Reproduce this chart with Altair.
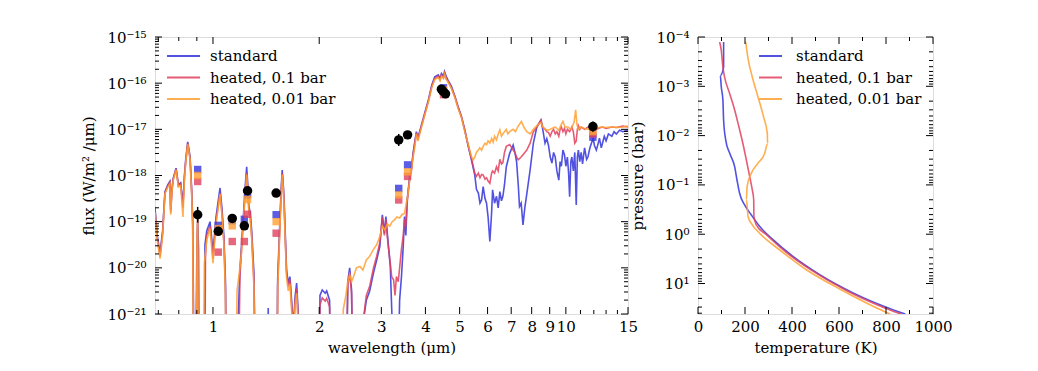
import json
import altair as alt
import pandas as pd

FONT = "DejaVu Serif"
SERIES = ["standard", "heated, 0.1 bar", "heated, 0.01 bar"]
COLORS = ["#3434dc", "#e0405e", "#ffa033"]

# ---------------- spectrum (wavelength in micron, log10 flux in W/m^2/micron) ----------------
std_wl = [0.685, 0.695, 0.708, 0.72, 0.731, 0.745, 0.755, 0.759, 0.765, 0.772, 0.786, 0.798, 0.81, 0.822, 0.83,
          0.837, 0.848, 0.861, 0.87, 0.876, 0.882, 0.892, 0.9, 0.905, 0.91, 0.915, 0.945, 0.949, 0.96, 0.981,
          0.99, 1.0, 1.02, 1.047, 1.06, 1.074, 1.085, 1.093, 1.17, 1.18, 1.192, 1.205, 1.218, 1.235, 1.246,
          1.255, 1.264, 1.275, 1.287, 1.306, 1.324, 1.43, 1.434, 1.44, 1.515, 1.525, 1.548, 1.56, 1.571, 1.582,
          1.592, 1.605, 1.616, 1.634, 1.652, 1.67, 1.69, 1.71, 1.726, 1.745, 1.763, 2.0, 2.01, 2.04, 2.08, 2.1,
          2.14, 2.16, 2.38, 2.41, 2.44, 2.47, 2.5, 2.6, 2.65, 2.72, 2.78, 2.85, 2.91, 2.97, 3.02, 3.06, 3.09,
          3.13, 3.18, 3.23, 3.27, 3.33, 3.38, 3.42, 3.46, 3.49, 3.52, 3.55, 3.61, 3.65, 3.69, 3.77, 3.81, 3.9,
          3.98, 4.08, 4.17, 4.25, 4.35, 4.4, 4.44, 4.5, 4.53, 4.58, 4.63, 4.74, 4.85, 4.95, 5.06, 5.17, 5.28,
          5.4, 5.52, 5.58, 5.65, 5.71, 5.77, 5.83, 5.9, 5.96, 6.02, 6.09, 6.16, 6.2, 6.28, 6.36, 6.43, 6.5,
          6.57, 6.63, 6.7, 6.78, 6.93, 7.09, 7.17, 7.25, 7.33, 7.39, 7.47, 7.56, 7.65, 7.75, 7.92, 8.09, 8.28,
          8.5, 8.6, 8.73, 8.83, 8.93, 9.03, 9.13, 9.23, 9.33, 9.43, 9.55, 9.63, 9.71, 9.81, 9.91, 10.0, 10.1,
          10.18, 10.25, 10.33, 10.4, 10.5, 10.6, 10.7, 10.78, 10.85, 10.95, 11.05, 11.15, 11.3, 11.45, 11.55,
          11.7, 11.95, 12.05, 12.2, 12.35, 12.45, 12.6, 12.7, 12.85, 13.0, 13.2, 13.5, 13.7, 13.9, 14.2, 14.5, 15.0]
std_lf = [-18.70, -19.30, -19.68, -19.2, -18.35, -18.2, -18.13, -18.74, -18.3, -18.05, -17.84, -18.2, -18.16, -18.64, -18.0,
          -17.66, -17.27, -17.59, -18.3, -18.96, -21.5, -23, -19.7, -18.95, -19.6, -23, -23, -19.5, -19.2, -19.0,
          -19.3, -19.68, -18.9, -18.27, -18.7, -19.32, -20.3, -23, -23, -21.0, -20.04, -19.5, -18.96, -18.2, -17.81,
          -18.2, -18.67, -18.8, -19.18, -20.1, -23, -23, -20.87, -23, -23, -20.26, -18.96, -18.3, -17.88, -18.2,
          -18.6, -19.4, -20.04, -20.33, -20.19, -20.7, -21.3, -20.6, -20.33, -21.0, -23, -23, -20.6, -20.48, -20.55, -20.5,
          -20.7, -23, -23, -20.3, -20.0, -20.48, -23, -23, -21.3, -20.7, -20.5, -20.11, -19.83, -19.54, -18.85, -19.25, -18.89,
          -19.39, -19.97, -21.5, -23, -23, -20.7, -20.2, -19.54, -18.89, -19.3, -18.53, -18.02, -17.85, -17.52, -17.05, -17.18, -16.9,
          -16.65, -16.36, -16.04, -15.86, -15.82, -15.9, -15.79, -15.85, -15.75, -15.85, -15.93, -16.07, -16.29, -16.51, -16.72, -17.01, -17.34,
          -17.66, -17.99, -18.3, -18.38, -18.6, -18.53, -18.24, -18.5, -18.6, -18.9, -19.43, -18.8, -18.31, -18.6, -18.45, -18.7, -18.35,
          -18.55, -18.45, -18.2, -17.81, -17.52, -17.34, -17.5, -17.7, -18.2, -18.67, -18.6, -19.07, -18.7, -18.4, -17.88, -17.3, -16.94,
          -16.8, -17.0, -17.3, -17.2, -17.35, -17.6, -17.73, -17.5, -17.6, -17.9, -18.1, -17.7, -17.8, -17.45, -17.55, -17.8, -17.6,
          -17.95, -18.46, -17.7, -17.6, -17.9, -17.5, -18.64, -17.6, -17.45, -17.7, -17.5, -17.75, -17.4, -17.65, -17.6,
          -17.4, -17.19, -17.35, -17.45, -17.3, -17.19, -17.4, -17.3, -17.15, -17.25, -17.1, -17.15, -17.05, -17.1, -17.02, -17.05, -17.01]

h01_wl = [0.685, 0.695, 0.708, 0.72, 0.731, 0.745, 0.755, 0.759, 0.765, 0.772, 0.786, 0.798, 0.81, 0.822, 0.83,
          0.837, 0.848, 0.861, 0.87, 0.876, 0.882, 0.897, 0.901, 0.905, 0.91, 0.948, 0.952, 0.96, 0.981, 0.99,
          1.0, 1.02, 1.047, 1.06, 1.074, 1.085, 1.09, 1.18, 1.192, 1.205, 1.218, 1.235, 1.246, 1.255, 1.264,
          1.275, 1.287, 1.306, 1.32, 1.52, 1.525, 1.548, 1.56, 1.571, 1.582, 1.592, 1.605, 1.616, 1.634, 1.652,
          1.67, 1.69, 1.71, 1.726, 1.745, 1.76, 2.0, 2.01, 2.04, 2.08, 2.1, 2.14, 2.16, 2.38, 2.41, 2.44, 2.47,
          2.5, 2.62, 2.68, 2.72, 2.78, 2.85, 2.91, 2.97, 3.02, 3.06, 3.09, 3.13, 3.18, 3.21, 3.25, 3.28, 3.31,
          3.35, 3.38, 3.42, 3.46, 3.49, 3.52, 3.55, 3.61, 3.65, 3.69, 3.77, 3.81, 3.9, 3.98, 4.08, 4.17, 4.25,
          4.35, 4.4, 4.44, 4.5, 4.53, 4.58, 4.63, 4.74, 4.85, 4.95, 5.06, 5.17, 5.28, 5.4, 5.52, 5.58, 5.65,
          5.71, 5.77, 5.83, 5.9, 5.96, 6.02, 6.09, 6.16, 6.2, 6.28, 6.36, 6.43, 6.5, 6.57, 6.63, 6.7, 6.78, 6.93,
          7.09, 7.17, 7.25, 7.33, 7.47, 7.56, 7.65, 7.75, 7.92, 8.09, 8.28, 8.5, 8.6, 8.73, 8.83, 8.93, 9.03,
          9.13, 9.23, 9.33, 9.43, 9.55, 9.63, 9.71, 9.81, 9.91, 10.0, 10.1, 10.25, 10.4, 10.5, 10.6, 10.7, 10.78,
          10.85, 10.95, 11.05, 11.3, 11.55, 11.95, 12.2, 12.45, 12.7, 13.0, 13.5, 13.9, 14.5, 15.0]
h01_lf = [-18.75, -19.35, -19.75, -19.25, -18.38, -18.22, -18.15, -18.8, -18.32, -18.07, -17.86, -18.22, -18.18, -18.7, -18.05,
          -17.7, -17.3, -17.62, -18.35, -19.05, -23, -23, -19.5, -19.0, -23, -23, -19.8, -19.3, -19.1, -19.4,
          -19.8, -19.0, -18.38, -18.8, -19.45, -20.5, -23, -23, -20.2, -19.6, -19.0, -18.3, -17.95, -18.3, -18.75,
          -18.9, -19.3, -20.3, -23, -23, -20.4, -19.05, -18.4, -17.95, -18.25, -18.7, -19.5, -20.1, -20.4, -20.25,
          -20.8, -21.4, -20.7, -20.45, -21.2, -23, -23, -20.8, -20.65, -20.72, -20.66, -20.85, -23, -23, -20.4, -20.1, -20.55,
          -23, -23, -21.0, -20.6, -20.4, -20.0, -19.75, -19.45, -18.9, -19.3, -18.95, -19.45, -19.9, -20.2, -20.26, -20.6, -20.19,
          -20.3, -20.0, -19.6, -19.3, -18.95, -19.1, -18.6, -18.05, -17.9, -17.55, -17.08, -17.2, -16.92, -16.68, -16.38, -16.06, -15.9,
          -15.85, -15.92, -15.82, -15.88, -15.78, -15.9, -15.95, -16.1, -16.3, -16.52, -16.73, -17.02, -17.33, -17.63, -17.95, -18.02, -17.95,
          -18.05, -17.98, -17.99, -18.08, -18.05, -18.12, -18.17, -17.95, -17.9, -17.95, -17.81, -17.9, -17.65, -17.75, -17.72, -17.5, -17.37, -17.33,
          -17.45, -17.5, -17.6, -17.66, -17.6, -17.55, -17.5, -17.45, -17.3, -17.05, -16.95, -16.8, -16.95, -17.0, -17.05, -17.07, -17.15,
          -17.05, -17.0, -17.1, -17.05, -17.15, -17.0, -16.95, -17.05, -16.98, -17.1, -17.0, -17.05, -16.95, -17.05, -17.3, -17.25, -17.0,
          -16.92, -17.0, -16.95, -17.0, -16.95, -16.98, -17.0, -16.97, -16.95, -16.98, -16.95, -16.96, -16.93, -16.95]

h001_wl = [0.685, 0.695, 0.708, 0.72, 0.731, 0.745, 0.755, 0.759, 0.765, 0.772, 0.786, 0.798, 0.81, 0.822, 0.83,
           0.837, 0.848, 0.861, 0.87, 0.876, 0.882, 0.897, 0.901, 0.905, 0.91, 0.94, 0.945, 0.96, 0.981, 0.99,
           1.0, 1.02, 1.047, 1.06, 1.074, 1.085, 1.09, 1.16, 1.17, 1.192, 1.205, 1.218, 1.235, 1.246, 1.255,
           1.264, 1.275, 1.287, 1.306, 1.32, 1.52, 1.525, 1.548, 1.56, 1.571, 1.582, 1.592, 1.605, 1.616, 1.634,
           1.652, 1.67, 1.69, 1.71, 1.726, 1.745, 1.76, 2.3, 2.34, 2.38, 2.41, 2.44, 2.47, 2.5, 2.55, 2.61, 2.66,
           2.72, 2.78, 2.85, 2.91, 2.97, 3.02, 3.07, 3.12, 3.17, 3.22, 3.27, 3.32, 3.38, 3.43, 3.49, 3.53, 3.57,
           3.61, 3.65, 3.69, 3.73, 3.77, 3.81, 3.9, 3.98, 4.08, 4.17, 4.25, 4.35, 4.4, 4.44, 4.5, 4.53, 4.58,
           4.63, 4.74, 4.85, 4.95, 5.06, 5.17, 5.28, 5.4, 5.46, 5.52, 5.58, 5.65, 5.7, 5.77, 5.83, 5.9, 5.96,
           6.02, 6.09, 6.16, 6.22, 6.28, 6.36, 6.43, 6.5, 6.57, 6.63, 6.7, 6.78, 6.85, 6.93, 7.09, 7.2, 7.3, 7.48,
           7.6, 7.75, 7.92, 8.09, 8.28, 8.5, 8.6, 8.73, 8.93, 9.13, 9.33, 9.55, 9.7, 9.81, 9.95, 10.13, 10.35,
           10.55, 10.66, 10.75, 10.85, 11.05, 11.3, 11.55, 11.95, 12.2, 12.6, 13.0, 13.5, 13.9, 14.5, 15.0]
h001_lf = [-18.8, -19.4, -19.8, -19.3, -18.4, -18.25, -18.18, -18.85, -18.35, -18.1, -17.88, -18.25, -18.22, -18.9, -18.1,
           -17.72, -17.32, -17.65, -18.4, -19.1, -23, -23, -19.4, -18.9, -23, -23, -19.9, -19.4, -19.15, -19.5,
           -19.9, -19.05, -18.4, -18.85, -19.5, -20.6, -23, -23, -20.5, -20.0, -19.65, -19.05, -18.35, -17.98, -18.35,
           -18.8, -18.95, -19.35, -20.4, -23, -23, -20.5, -19.1, -18.45, -17.98, -18.3, -18.75, -19.55, -20.2, -20.5,
           -20.35, -20.9, -21.5, -20.8, -20.55, -21.3, -23, -23, -20.9, -20.6, -20.3, -20.15, -20.3, -20.2, -20.0, -19.97, -20.05,
           -19.83, -19.75, -19.6, -19.5, -19.32, -19.1, -19.18, -19.05, -19.1, -19.0, -18.96, -18.9, -18.92, -18.85, -18.82, -18.6, -18.4,
           -18.1, -17.88, -17.6, -17.4, -17.1, -17.25, -16.95, -16.7, -16.4, -16.1, -15.92, -15.88, -15.95, -15.85, -15.9, -15.8, -15.92,
           -15.97, -16.12, -16.32, -16.55, -16.75, -17.05, -17.3, -17.59, -17.66, -17.6, -17.5, -17.45, -17.4, -17.45, -17.37, -17.3, -17.33,
           -17.25, -17.3, -17.2, -17.28, -17.15, -17.23, -17.1, -17.01, -17.15, -17.1, -17.05, -17.0, -17.1, -17.05, -17.0, -17.05, -16.95, -16.83,
           -16.95, -17.05, -17.1, -17.0, -16.92, -16.85, -16.95, -17.0, -17.02, -16.98, -16.95, -17.02, -16.9, -16.83, -16.95, -16.95, -17.0,
           -16.85, -16.58, -16.9, -17.0, -16.95, -16.98, -17.0, -16.98, -16.97, -16.95, -16.96, -16.95, -16.96, -16.95, -16.93]

# ---------------- observed photometry ----------------
obs_wl = [0.905, 1.035, 1.134, 1.227, 1.253, 1.51, 3.36, 3.56, 4.44, 4.49, 4.56, 11.93]
obs_lf = [-18.85, -19.21, -18.93, -19.09, -18.33, -18.38, -17.23, -17.12, -16.13, -16.18, -16.23, -16.94]
obs_err = [0.17, 0.04, 0.03, 0.08, 0.04, 0.03, 0.13, 0.04, 0.03, 0.03, 0.03, 0.11]

# ---------------- model band fluxes ----------------
band_wl = [0.905, 1.035, 1.134, 1.227, 1.253, 1.51, 3.36, 3.56, 4.50, 11.93]
band_std_lf = [-17.87, -19.08, -18.98, -18.95, -18.42, -18.85, -18.28, -17.77, -16.10, -17.17]
band_h01_lf = [-18.13, -19.66, -19.43, -19.43, -18.84, -19.25, -18.53, -18.02, -16.25, -17.10]
band_h001_lf = [-18.00, -19.15, -19.09, -19.09, -18.52, -19.00, -18.42, -17.92, -16.15, -17.05]

# ---------------- temperature-pressure profiles (K, log10 bar) ----------------
tp_std_T = [109, 109, 95, 99, 106, 109, 118, 135, 156, 166, 177, 199, 227, 262, 319, 404, 518, 660, 790, 882]
tp_std_lp = [-3.9, -3.39, -3.22, -2.99, -2.72, -2.31, -1.91, -1.64, -1.37, -1.1, -0.83, -0.59, -0.39, -0.16, 0.11, 0.45, 0.82, 1.19, 1.46, 1.62]
tp_h01_T = [92, 99, 106, 113, 135, 156, 174, 191, 206, 220, 231, 237, 238, 248, 291, 376, 489, 631, 777, 864]
tp_h01_lp = [-3.9, -3.73, -3.39, -3.19, -2.85, -2.52, -2.18, -1.84, -1.5, -1.17, -0.9, -0.7, -0.36, -0.19, 0.01, 0.37, 0.75, 1.14, 1.46, 1.62]
tp_h001_T = [203, 213, 231, 255, 279, 295, 296, 284, 255, 227, 209, 206, 213, 227, 262, 348, 461, 603, 745, 818]
tp_h001_lp = [-3.9, -3.56, -3.19, -2.79, -2.38, -2.04, -1.84, -1.64, -1.44, -1.24, -0.97, -0.7, -0.36, -0.22, -0.02, 0.32, 0.72, 1.11, 1.46, 1.62]

# ---------------- axes ----------------
WL_DOMAIN = [0.685, 15]
FLUX_DOMAIN = [1e-21, 1e-15]
T_DOMAIN = [0, 1000]
P_DOMAIN = [1e-4, 41.5]
wl_major = [1, 2, 3, 4, 5, 6, 7, 8, 9, 10, 15]
wl_minor = [0.7, 0.8, 0.9, 11, 12, 13, 14]
flux_exps = [-21, -20, -19, -18, -17, -16, -15]
flux_labels = ["10⁻²¹", "10⁻²⁰", "10⁻¹⁹", "10⁻¹⁸", "10⁻¹⁷", "10⁻¹⁶", "10⁻¹⁵"]
T_major = [0, 200, 400, 600, 800, 1000]
T_minor = [100, 300, 500, 700, 900]
p_exps = [-4, -3, -2, -1, 0, 1]
p_labels = ["10⁻⁴", "10⁻³", "10⁻²", "10⁻¹", "10⁰", "10¹"]

flux_major = [10.0 ** e for e in flux_exps]
flux_minor = [k * 10.0 ** e for e in flux_exps[:-1] for k in range(2, 10)]
p_major = [10.0 ** e for e in p_exps]
p_minor = [k * 10.0 ** e for e in p_exps for k in range(2, 10) if k * 10.0 ** e <= P_DOMAIN[1]]

W1, W2, H = 473, 235, 277
MAJ, MIN = 7, 4

wl_scale = alt.Scale(type="log", domain=WL_DOMAIN, nice=False)
flux_scale = alt.Scale(type="log", domain=FLUX_DOMAIN, nice=False)
T_scale = alt.Scale(type="linear", domain=T_DOMAIN, nice=False)
P_scale = alt.Scale(type="log", domain=P_DOMAIN, nice=False, reverse=True)

common_axis = dict(ticks=False, domain=False, grid=False, labelOverlap=False, labelFlush=False,
                   labelFont=FONT, labelFontSize=15, labelColor="black",
                   titleFont=FONT, titleFontSize=15, titleFontWeight="normal", titleColor="black")
wl_axis = alt.Axis(title="wavelength (μm)", values=wl_major, labelExpr="'' + datum.value",
                   labelPadding=5, titlePadding=6, **common_axis)
flux_axis = alt.Axis(title="flux (W/m² /μm)", values=flux_major,
                     labelExpr=json.dumps(flux_labels, ensure_ascii=False) + "[round(log(datum.value)/LN10) + 21]",
                     labelPadding=9, titlePadding=10, **common_axis)
T_axis = alt.Axis(title="temperature (K)", values=T_major, labelExpr="'' + datum.value",
                  labelPadding=5, titlePadding=6, **common_axis)
P_axis = alt.Axis(title="pressure (bar)", values=p_major,
                  labelExpr=json.dumps(p_labels, ensure_ascii=False) + "[round(log(datum.value)/LN10) + 4]",
                  labelPadding=9, titlePadding=10, **common_axis)


def spec_df(wl, lf):
    return pd.DataFrame({"wl": wl, "flux": [10.0 ** v for v in lf]})


def xticks(vals, field, scale, axis, length, w, h):
    df = pd.DataFrame({field: vals})
    bot = alt.Chart(df).mark_rule(color="black", strokeWidth=1).encode(
        x=alt.X(f"{field}:Q", scale=scale, axis=axis), y=alt.value(h), y2=alt.value(h - length))
    top = alt.Chart(df).mark_rule(color="black", strokeWidth=1).encode(
        x=alt.X(f"{field}:Q", scale=scale, axis=axis), y=alt.value(0), y2=alt.value(length))
    return [bot, top]


def yticks(vals, field, scale, axis, length, w, h):
    df = pd.DataFrame({field: vals})
    left = alt.Chart(df).mark_rule(color="black", strokeWidth=1).encode(
        y=alt.Y(f"{field}:Q", scale=scale, axis=axis), x=alt.value(0), x2=alt.value(length))
    right = alt.Chart(df).mark_rule(color="black", strokeWidth=1).encode(
        y=alt.Y(f"{field}:Q", scale=scale, axis=axis), x=alt.value(w), x2=alt.value(w - length))
    return [left, right]


def legend_layers(x0, sym_len, gap, y0, dy):
    layers = []
    for i, (name, col) in enumerate(zip(SERIES, COLORS)):
        d = pd.DataFrame({"series": [name]})
        y = y0 + i * dy
        layers.append(alt.Chart(d).mark_rule(color=col, strokeWidth=2, opacity=0.85).encode(
            x=alt.value(x0), x2=alt.value(x0 + sym_len), y=alt.value(y)))
        layers.append(alt.Chart(d).mark_text(align="left", baseline="middle", font=FONT, fontSize=15,
                                             color="black").encode(
            x=alt.value(x0 + sym_len + gap), y=alt.value(y), text="series:N"))
    return layers


# ---------------- left panel ----------------
spec_sets = [(std_wl, std_lf), (h01_wl, h01_lf), (h001_wl, h001_lf)]
band_sets = [band_std_lf, band_h01_lf, band_h001_lf]

left_layers = []
for (wl, lf), col in zip(spec_sets, COLORS):
    left_layers.append(alt.Chart(spec_df(wl, lf)).mark_line(color=col, strokeWidth=1.6, opacity=0.85, clip=True).encode(
        x=alt.X("wl:Q", scale=wl_scale, axis=wl_axis),
        y=alt.Y("flux:Q", scale=flux_scale, axis=flux_axis)))
for lf, col in zip(band_sets, COLORS):
    left_layers.append(alt.Chart(spec_df(band_wl, lf)).mark_square(color=col, size=55, opacity=0.8).encode(
        x=alt.X("wl:Q", scale=wl_scale, axis=wl_axis),
        y=alt.Y("flux:Q", scale=flux_scale, axis=flux_axis)))

obs_df = pd.DataFrame({
    "wl": obs_wl,
    "flux": [10.0 ** v for v in obs_lf],
    "lo": [10.0 ** (v - e) for v, e in zip(obs_lf, obs_err)],
    "hi": [10.0 ** (v + e) for v, e in zip(obs_lf, obs_err)],
})
left_layers.append(alt.Chart(obs_df).mark_rule(color="black", strokeWidth=1.5).encode(
    x=alt.X("wl:Q", scale=wl_scale, axis=wl_axis),
    y=alt.Y("lo:Q", scale=flux_scale, axis=flux_axis), y2="hi:Q"))
left_layers.append(alt.Chart(obs_df).mark_circle(color="black", size=90, opacity=1).encode(
    x=alt.X("wl:Q", scale=wl_scale, axis=wl_axis),
    y=alt.Y("flux:Q", scale=flux_scale, axis=flux_axis)))

left_layers += xticks(wl_major, "wl", wl_scale, wl_axis, MAJ, W1, H)
left_layers += xticks(wl_minor, "wl", wl_scale, wl_axis, MIN, W1, H)
left_layers += yticks(flux_major, "flux", flux_scale, flux_axis, MAJ, W1, H)
left_layers += yticks(flux_minor, "flux", flux_scale, flux_axis, MIN, W1, H)
left_layers += legend_layers(12, 33, 10, 19, 21.5)

left = alt.layer(*left_layers).properties(width=W1, height=H)

# ---------------- right panel ----------------
tp_sets = [(tp_std_T, tp_std_lp), (tp_h01_T, tp_h01_lp), (tp_h001_T, tp_h001_lp)]
right_layers = []
for (T, lp), col in zip(tp_sets, COLORS):
    df = pd.DataFrame({"T": T, "P": [10.0 ** v for v in lp], "i": list(range(len(T)))})
    right_layers.append(alt.Chart(df).mark_line(color=col, strokeWidth=1.6, opacity=0.85, clip=True,
                                                interpolate="monotone").encode(
        x=alt.X("T:Q", scale=T_scale, axis=T_axis),
        y=alt.Y("P:Q", scale=P_scale, axis=P_axis),
        order="i:Q"))
right_layers += xticks(T_major, "T", T_scale, T_axis, MAJ, W2, H)
right_layers += xticks(T_minor, "T", T_scale, T_axis, MIN, W2, H)
right_layers += yticks(p_major, "P", P_scale, P_axis, MAJ, W2, H)
right_layers += yticks(p_minor, "P", P_scale, P_axis, MIN, W2, H)
right_layers += legend_layers(61, 23, 14, 19, 21.5)

right = alt.layer(*right_layers).properties(width=W2, height=H)

chart = alt.hconcat(left, right, spacing=70, bounds="flush").properties(
    padding={"left": 73, "top": 21, "right": 5, "bottom": 5}
).configure_view(stroke="black", strokeWidth=1).configure(background="white")

chart.save("out.html", embed_options={"renderer": "svg", "actions": False})
